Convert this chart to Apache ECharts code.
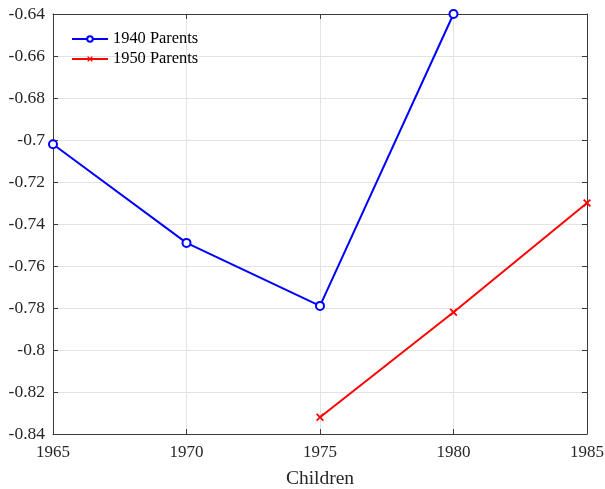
<!DOCTYPE html>
<html>
<head>
<meta charset="utf-8">
<script src="https://cdn.jsdelivr.net/npm/echarts@6/dist/echarts.min.js"></script>
<style>html,body{margin:0;padding:0;background:#fff}#c{width:605px;height:489px}</style>
</head>
<body>
<div id="c"></div>
<script>
const years1940 = [1965, 1970, 1975, 1980];
const values1940 = [-0.702, -0.749, -0.779, -0.640];
const years1950 = [1975, 1980, 1985];
const values1950 = [-0.832, -0.782, -0.730];
const seriesNames = ['1940 Parents', '1950 Parents'];
const xLabel = 'Children';

const FONT = '"Liberation Serif", "DejaVu Serif", serif';
const AX = '#3a3a3a';
const xMark = 'path://M1.6,0L5,3.4L8.4,0L10,1.6L6.6,5L10,8.4L8.4,10L5,6.6L1.6,10L0,8.4L3.4,5L0,1.6Z';

const chart = echarts.init(document.getElementById('c'), null, {renderer: 'canvas'});
const axisCommon = {
  axisLine: {show: true, onZero: false, lineStyle: {color: AX, width: 1}},
  axisTick: {show: true, inside: true, length: 5, lineStyle: {color: AX}},
};
chart.setOption({
  animation: false,
  grid: {left: 53, right: 18, top: 14, bottom: 55, containLabel: false, outerBoundsMode: 'none'},
  legend: {
    left: 66, top: 25, orient: 'vertical', itemGap: 2,
    itemWidth: 36, itemHeight: 7,
    textStyle: {fontFamily: FONT, fontSize: 16.4, color: '#000', lineHeight: 18},
    data: seriesNames
  },
  xAxis: [{
    type: 'value', min: 1965, max: 1985, interval: 5,
    ...axisCommon,
    splitLine: {show: true, lineStyle: {color: '#e3e3e3'}},
    axisLabel: {fontFamily: FONT, fontSize: 17, color: '#262626', margin: 10,
      formatter: v => String(v)},
    name: xLabel, nameLocation: 'middle', nameGap: 35,
    nameTextStyle: {fontFamily: FONT, fontSize: 19.5, color: '#262626'}
  }, {
    type: 'value', min: 1965, max: 1985, interval: 5, position: 'top',
    ...axisCommon, axisLabel: {show: false}, splitLine: {show: false}
  }],
  yAxis: [{
    type: 'value', min: -0.84, max: -0.64, interval: 0.02,
    ...axisCommon,
    splitLine: {show: true, lineStyle: {color: '#e3e3e3'}},
    axisLabel: {fontFamily: FONT, fontSize: 17.5, color: '#262626', margin: 8,
      formatter: v => String(parseFloat(v.toFixed(2)))}
  }, {
    type: 'value', min: -0.84, max: -0.64, interval: 0.02, position: 'right',
    ...axisCommon, axisLabel: {show: false}, splitLine: {show: false}
  }],
  series: [{
    name: seriesNames[0], type: 'line',
    data: years1940.map((x, i) => [x, values1940[i]]),
    symbol: 'circle', symbolSize: 8, showAllSymbol: true,
    lineStyle: {color: '#0000ff', width: 2},
    itemStyle: {color: '#ffffff', borderColor: '#0000ff', borderWidth: 2},
    emphasis: {disabled: true}
  }, {
    name: seriesNames[1], type: 'line',
    data: years1950.map((x, i) => [x, values1950[i]]),
    symbol: xMark, symbolSize: 8, showAllSymbol: true,
    lineStyle: {color: '#ff0000', width: 2},
    itemStyle: {color: '#ff0000', borderWidth: 0},
    emphasis: {disabled: true}
  }]
});
</script>
</body>
</html>
